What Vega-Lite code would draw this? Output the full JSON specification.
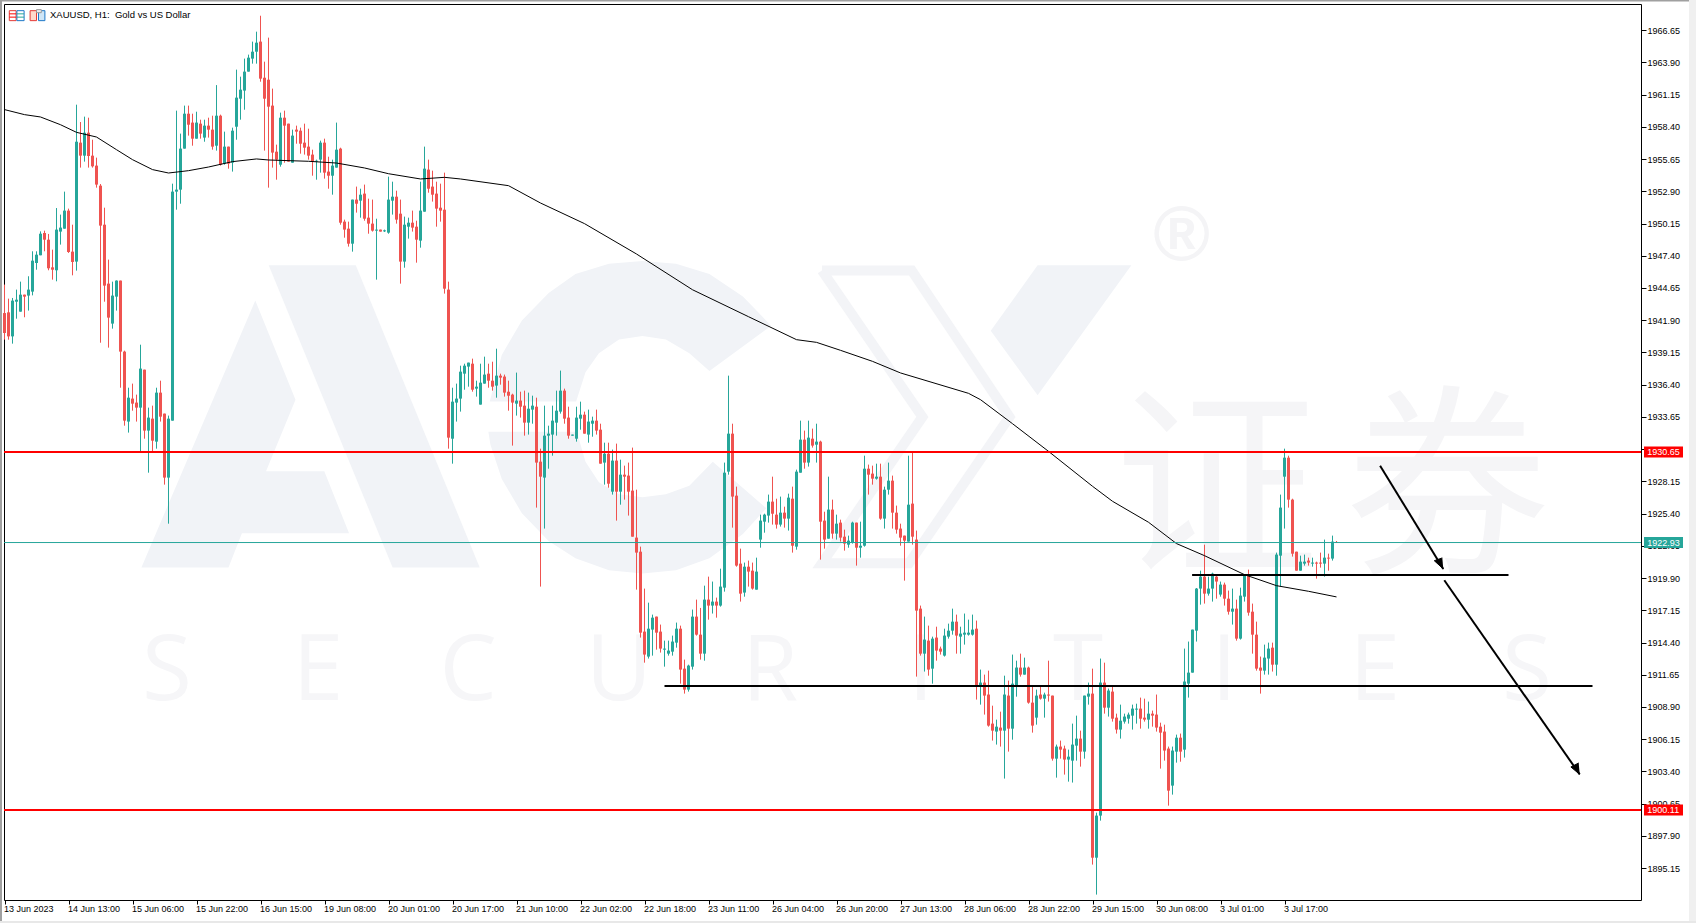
{"$schema":"https://vega.github.io/schema/vega-lite/v6.json","width":1637,"height":896,"autosize":{"type":"none"},"padding":{"left":4,"top":4,"right":55,"bottom":23},"background":"#ffffff","config":{"view":{"stroke":"#000000","strokeWidth":1}},
"datasets":{
"candles":[
{"i":0,"o":1942.51,"h":1944.94,"l":1940.24,"c":1940.81},{"i":1,"o":1942.57,"h":1943.74,"l":1940.24,"c":1940.52},{"i":2,"o":1940.52,"h":1943.8,"l":1939.9,"c":1943.57},{"i":3,"o":1943.48,"h":1944.51,"l":1942.03,"c":1943.65},{"i":4,"o":1942.63,"h":1945.19,"l":1942.63,"c":1944.08},{"i":5,"o":1944.08,"h":1944.08,"l":1942.15,"c":1943.91},{"i":6,"o":1944,"h":1945.65,"l":1942.72,"c":1944.51},{"i":7,"o":1944.34,"h":1947.78,"l":1944.02,"c":1946.98},{"i":8,"o":1946.78,"h":1947.78,"l":1946.21,"c":1947.49},{"i":9,"o":1947.44,"h":1949.48,"l":1947.44,"c":1949.28},
{"i":10,"o":1949.34,"h":1949.54,"l":1947.78,"c":1948.77},{"i":11,"o":1948.77,"h":1949.26,"l":1946.16,"c":1946.33},{"i":12,"o":1946.41,"h":1947.92,"l":1945.36,"c":1946.21},{"i":13,"o":1946.16,"h":1951.47,"l":1945.22,"c":1949.63},{"i":14,"o":1949.46,"h":1950.91,"l":1948.35,"c":1949.8},{"i":15,"o":1949.71,"h":1952.87,"l":1949.71,"c":1951.25},{"i":16,"o":1951.25,"h":1951.42,"l":1947.64,"c":1947.72},{"i":17,"o":1947.75,"h":1950.05,"l":1945.73,"c":1946.87},{"i":18,"o":1946.9,"h":1960.29,"l":1946.13,"c":1957.13},{"i":19,"o":1957.05,"h":1958.81,"l":1954.92,"c":1955.94},
{"i":20,"o":1955.94,"h":1959.27,"l":1955.43,"c":1957.9},{"i":21,"o":1957.9,"h":1959.18,"l":1954.92,"c":1955.91},{"i":22,"o":1955.94,"h":1957.3,"l":1954.92,"c":1955.03},{"i":23,"o":1955.09,"h":1955.77,"l":1953.21,"c":1953.47},{"i":24,"o":1953.38,"h":1953.52,"l":1939.98,"c":1949.97},{"i":25,"o":1950.05,"h":1951.5,"l":1943.48,"c":1944.85},{"i":26,"o":1945.02,"h":1947.07,"l":1939.56,"c":1942.12},{"i":27,"o":1941.61,"h":1945.19,"l":1941.18,"c":1944},{"i":28,"o":1943.91,"h":1945.3,"l":1942.72,"c":1945.28},{"i":29,"o":1945.28,"h":1945.28,"l":1936.14,"c":1939.22},
{"i":30,"o":1939.22,"h":1939.3,"l":1932.9,"c":1933.33},{"i":31,"o":1933.25,"h":1936.14,"l":1932.31,"c":1935.29},{"i":32,"o":1935.21,"h":1936.49,"l":1934.18,"c":1934.78},{"i":33,"o":1934.87,"h":1935.55,"l":1933.25,"c":1934.44},{"i":34,"o":1934.44,"h":1939.81,"l":1930.69,"c":1937.77},{"i":35,"o":1937.68,"h":1937.68,"l":1931.79,"c":1932.48},{"i":36,"o":1932.48,"h":1934.44,"l":1928.89,"c":1933.59},{"i":37,"o":1933.5,"h":1934.61,"l":1930.69,"c":1931.62},{"i":38,"o":1931.54,"h":1936.14,"l":1930.94,"c":1935.72},{"i":39,"o":1935.72,"h":1936.74,"l":1933.25,"c":1933.67},
{"i":40,"o":1933.93,"h":1933.93,"l":1927.87,"c":1928.47},{"i":41,"o":1928.47,"h":1933.76,"l":1924.54,"c":1933.5},{"i":42,"o":1933.33,"h":1953.55,"l":1933.33,"c":1952.87},{"i":43,"o":1952.87,"h":1959.78,"l":1951.33,"c":1953.04},{"i":44,"o":1953.04,"h":1957.82,"l":1951.84,"c":1956.54},{"i":45,"o":1956.54,"h":1960.21,"l":1956.54,"c":1959.52},{"i":46,"o":1959.52,"h":1960.21,"l":1957.65,"c":1958.58},{"i":47,"o":1958.76,"h":1959.52,"l":1956.79,"c":1957.39},{"i":48,"o":1957.39,"h":1959.69,"l":1957.39,"c":1958.76},{"i":49,"o":1958.67,"h":1959.01,"l":1957.39,"c":1957.82},
{"i":50,"o":1957.48,"h":1959.01,"l":1957.13,"c":1958.5},{"i":51,"o":1958.5,"h":1959.18,"l":1957.48,"c":1958.16},{"i":52,"o":1958.16,"h":1959.35,"l":1956.45,"c":1956.71},{"i":53,"o":1956.79,"h":1961.96,"l":1956.37,"c":1959.35},{"i":54,"o":1959.35,"h":1959.44,"l":1955.09,"c":1955.17},{"i":55,"o":1955.26,"h":1957.99,"l":1955.17,"c":1956.71},{"i":56,"o":1956.71,"h":1956.71,"l":1954.83,"c":1955.26},{"i":57,"o":1955.34,"h":1958.33,"l":1954.58,"c":1958.07},{"i":58,"o":1958.41,"h":1963.28,"l":1957.3,"c":1960.89},{"i":59,"o":1960.8,"h":1962.68,"l":1959.01,"c":1961.57},
{"i":60,"o":1961.49,"h":1964.22,"l":1959.86,"c":1963.11},{"i":61,"o":1963.11,"h":1964.56,"l":1963.11,"c":1964.3},{"i":62,"o":1964.22,"h":1965.67,"l":1963.79,"c":1964.81},{"i":63,"o":1964.81,"h":1966.52,"l":1963.79,"c":1965.58},{"i":64,"o":1965.67,"h":1967.88,"l":1962.25,"c":1962.51},{"i":65,"o":1962.59,"h":1963.96,"l":1956.37,"c":1960.8},{"i":66,"o":1962.42,"h":1966.01,"l":1953.21,"c":1960.12},{"i":67,"o":1960.21,"h":1961.66,"l":1954.92,"c":1956.2},{"i":68,"o":1956.28,"h":1956.88,"l":1953.89,"c":1955.6},{"i":69,"o":1955.17,"h":1959.61,"l":1955,"c":1959.18},
{"i":70,"o":1959.18,"h":1959.78,"l":1955.34,"c":1958.5},{"i":71,"o":1958.67,"h":1958.67,"l":1955.43,"c":1955.43},{"i":72,"o":1955.34,"h":1958.16,"l":1955.34,"c":1957.65},{"i":73,"o":1958.16,"h":1958.5,"l":1956.96,"c":1957.99},{"i":74,"o":1958.07,"h":1958.33,"l":1956.11,"c":1956.96},{"i":75,"o":1957.05,"h":1958.67,"l":1956.03,"c":1956.62},{"i":76,"o":1956.71,"h":1958.24,"l":1955.6,"c":1955.94},{"i":77,"o":1956.03,"h":1956.45,"l":1954.23,"c":1955.43},{"i":78,"o":1955.43,"h":1955.6,"l":1953.89,"c":1955.51},{"i":79,"o":1955.6,"h":1957.22,"l":1954.49,"c":1957.05},
{"i":80,"o":1957.05,"h":1957.39,"l":1953.98,"c":1954.49},{"i":81,"o":1954.58,"h":1955.85,"l":1953.12,"c":1954.23},{"i":82,"o":1954.23,"h":1955.6,"l":1952.61,"c":1955.09},{"i":83,"o":1954.92,"h":1958.76,"l":1954.92,"c":1956.45},{"i":84,"o":1956.54,"h":1956.62,"l":1950.05,"c":1950.22},{"i":85,"o":1950.31,"h":1950.48,"l":1948.94,"c":1949.63},{"i":86,"o":1949.71,"h":1950.31,"l":1948.18,"c":1948.43},{"i":87,"o":1948.43,"h":1952.19,"l":1947.75,"c":1952.19},{"i":88,"o":1952.19,"h":1953.3,"l":1951.08,"c":1951.84},{"i":89,"o":1952.1,"h":1953.12,"l":1950.65,"c":1952.61},
{"i":90,"o":1952.7,"h":1953.47,"l":1950.39,"c":1950.56},{"i":91,"o":1950.65,"h":1952.27,"l":1949.28,"c":1950.14},{"i":92,"o":1950.14,"h":1952.19,"l":1949.46,"c":1949.54},{"i":93,"o":1949.54,"h":1950.56,"l":1945.36,"c":1949.63},{"i":94,"o":1949.63,"h":1949.63,"l":1949.46,"c":1949.46},{"i":95,"o":1949.48,"h":1949.63,"l":1949.43,"c":1949.57},{"i":96,"o":1949.37,"h":1954.15,"l":1949.28,"c":1952.19},{"i":97,"o":1952.1,"h":1953.72,"l":1950.91,"c":1952.44},{"i":98,"o":1952.44,"h":1952.95,"l":1950.14,"c":1950.48},{"i":99,"o":1950.99,"h":1952.19,"l":1945.02,"c":1946.9},
{"i":100,"o":1946.9,"h":1950.74,"l":1946.38,"c":1950.05},{"i":101,"o":1949.88,"h":1950.65,"l":1948.86,"c":1950.22},{"i":102,"o":1950.22,"h":1951.25,"l":1949.46,"c":1949.8},{"i":103,"o":1949.88,"h":1950.39,"l":1946.81,"c":1948.77},{"i":104,"o":1948.69,"h":1953.72,"l":1948.09,"c":1951.25},{"i":105,"o":1951.16,"h":1956.71,"l":1951.16,"c":1954.83},{"i":106,"o":1954.75,"h":1955.6,"l":1952.78,"c":1953.12},{"i":107,"o":1953.3,"h":1954.66,"l":1952.02,"c":1952.61},{"i":108,"o":1952.7,"h":1953.72,"l":1949.88,"c":1951.42},{"i":109,"o":1951.5,"h":1953.55,"l":1950.31,"c":1951.25},
{"i":110,"o":1951.33,"h":1954.49,"l":1944.17,"c":1944.59},{"i":111,"o":1944.51,"h":1945.19,"l":1930.94,"c":1931.88},{"i":112,"o":1931.79,"h":1936.14,"l":1929.66,"c":1934.95},{"i":113,"o":1934.87,"h":1936.49,"l":1933.25,"c":1935.21},{"i":114,"o":1935.21,"h":1938.02,"l":1934.1,"c":1937.51},{"i":115,"o":1937.34,"h":1938.19,"l":1935.97,"c":1938.02},{"i":116,"o":1937.94,"h":1938.28,"l":1936.23,"c":1938.28},{"i":117,"o":1938.19,"h":1938.62,"l":1935.8,"c":1935.97},{"i":118,"o":1936.06,"h":1936.74,"l":1935.38,"c":1936.23},{"i":119,"o":1934.7,"h":1938.19,"l":1934.7,"c":1936.57},
{"i":120,"o":1936.49,"h":1938.79,"l":1936.49,"c":1937.26},{"i":121,"o":1937.34,"h":1938.19,"l":1936.14,"c":1936.74},{"i":122,"o":1936.74,"h":1938.36,"l":1935.89,"c":1936.23},{"i":123,"o":1936.32,"h":1939.47,"l":1935.29,"c":1937.17},{"i":124,"o":1937.17,"h":1937.34,"l":1936.4,"c":1937},{"i":125,"o":1937.09,"h":1937.26,"l":1935.38,"c":1935.72},{"i":126,"o":1935.8,"h":1936.74,"l":1934.18,"c":1935.46},{"i":127,"o":1935.55,"h":1935.63,"l":1931.2,"c":1934.87},{"i":128,"o":1934.78,"h":1937.43,"l":1933.76,"c":1935.04},{"i":129,"o":1935.04,"h":1935.8,"l":1933.59,"c":1934.52},
{"i":130,"o":1934.61,"h":1935.89,"l":1932.05,"c":1933.16},{"i":131,"o":1933.16,"h":1935.72,"l":1932.14,"c":1934.35},{"i":132,"o":1934.27,"h":1935.46,"l":1933.07,"c":1934.61},{"i":133,"o":1934.52,"h":1935.29,"l":1925.91,"c":1929.75},{"i":134,"o":1929.83,"h":1930.94,"l":1919.17,"c":1928.55},{"i":135,"o":1928.47,"h":1934.61,"l":1924.12,"c":1932.05},{"i":136,"o":1932.05,"h":1932.9,"l":1929.23,"c":1932.22},{"i":137,"o":1932.14,"h":1934.61,"l":1930.34,"c":1933.33},{"i":138,"o":1933.16,"h":1935.89,"l":1932.05,"c":1934.18},{"i":139,"o":1934.1,"h":1937.6,"l":1933.93,"c":1935.89},
{"i":140,"o":1935.89,"h":1936.06,"l":1933.07,"c":1933.5},{"i":141,"o":1933.59,"h":1934.52,"l":1931.79,"c":1932.05},{"i":142,"o":1932.05,"h":1932.14,"l":1932.05,"c":1932.14},{"i":143,"o":1931.79,"h":1934.52,"l":1931.54,"c":1933.59},{"i":144,"o":1933.5,"h":1934.95,"l":1932.56,"c":1933.84},{"i":145,"o":1933.84,"h":1934.1,"l":1932.22,"c":1932.22},{"i":146,"o":1932.14,"h":1934.27,"l":1931.45,"c":1933.25},{"i":147,"o":1933.07,"h":1933.67,"l":1931.96,"c":1933.33},{"i":148,"o":1933.33,"h":1934.27,"l":1932.14,"c":1932.48},{"i":149,"o":1932.56,"h":1933.07,"l":1929.66,"c":1929.66},
{"i":150,"o":1929.75,"h":1931.45,"l":1927.87,"c":1930.51},{"i":151,"o":1930.51,"h":1931.45,"l":1927.61,"c":1927.95},{"i":152,"o":1927.27,"h":1930.86,"l":1927.02,"c":1929.92},{"i":153,"o":1929.92,"h":1931.37,"l":1924.8,"c":1927.27},{"i":154,"o":1927.27,"h":1930,"l":1926.16,"c":1928.72},{"i":155,"o":1928.72,"h":1929.49,"l":1926.59,"c":1928.55},{"i":156,"o":1928.64,"h":1929.75,"l":1925.23,"c":1927.27},{"i":157,"o":1927.36,"h":1931.03,"l":1923.43,"c":1923.43},{"i":158,"o":1923.35,"h":1927.44,"l":1918.91,"c":1922.07},{"i":159,"o":1922.15,"h":1922.58,"l":1914.82,"c":1915.24},
{"i":160,"o":1915.33,"h":1919,"l":1912.68,"c":1913.37},{"i":161,"o":1913.2,"h":1917.8,"l":1913.03,"c":1915.58},{"i":162,"o":1915.5,"h":1916.78,"l":1913.28,"c":1916.52},{"i":163,"o":1916.61,"h":1916.61,"l":1913.79,"c":1915.24},{"i":164,"o":1915.33,"h":1915.93,"l":1913.54,"c":1913.88},{"i":165,"o":1913.79,"h":1914.56,"l":1912.34,"c":1913.88},{"i":166,"o":1913.45,"h":1914.56,"l":1913.28,"c":1913.71},{"i":167,"o":1913.62,"h":1914.99,"l":1913.28,"c":1914.48},{"i":168,"o":1914.39,"h":1916.1,"l":1913.96,"c":1915.58},{"i":169,"o":1915.58,"h":1915.84,"l":1910.89,"c":1912.09},
{"i":170,"o":1912.17,"h":1912.94,"l":1910.04,"c":1910.38},{"i":171,"o":1910.38,"h":1912.51,"l":1910.21,"c":1912.43},{"i":172,"o":1912.34,"h":1917.21,"l":1912.09,"c":1916.61},{"i":173,"o":1916.61,"h":1918.06,"l":1914.99,"c":1915.07},{"i":174,"o":1915.07,"h":1917.35,"l":1912.94,"c":1913.45},{"i":175,"o":1913.45,"h":1919.25,"l":1912.85,"c":1918.06},{"i":176,"o":1918.06,"h":1920.02,"l":1916.35,"c":1917.55},{"i":177,"o":1917.55,"h":1919.6,"l":1916.87,"c":1917.89},{"i":178,"o":1917.89,"h":1918.23,"l":1916.52,"c":1917.55},{"i":179,"o":1917.55,"h":1920.7,"l":1917.46,"c":1919.17},
{"i":180,"o":1919.08,"h":1929.75,"l":1918.74,"c":1928.89},{"i":181,"o":1928.98,"h":1937.17,"l":1928.72,"c":1932.22},{"i":182,"o":1932.22,"h":1933.07,"l":1924.2,"c":1926.85},{"i":183,"o":1926.93,"h":1927.7,"l":1920.87,"c":1920.96},{"i":184,"o":1921.13,"h":1922.41,"l":1917.89,"c":1918.57},{"i":185,"o":1918.66,"h":1921.22,"l":1918.31,"c":1920.87},{"i":186,"o":1920.87,"h":1921.39,"l":1919.17,"c":1920.45},{"i":187,"o":1920.53,"h":1921.22,"l":1918.91,"c":1919},{"i":188,"o":1918.91,"h":1921.64,"l":1918.91,"c":1920.45},{"i":189,"o":1923.18,"h":1925.31,"l":1922.49,"c":1924.8},
{"i":190,"o":1924.71,"h":1925.39,"l":1923.77,"c":1925.31},{"i":191,"o":1925.23,"h":1927.02,"l":1924.63,"c":1926.42},{"i":192,"o":1926.42,"h":1928.55,"l":1924.46,"c":1925.39},{"i":193,"o":1925.31,"h":1926.67,"l":1924.12,"c":1924.46},{"i":194,"o":1924.46,"h":1926.85,"l":1924.29,"c":1925.48},{"i":195,"o":1925.48,"h":1925.99,"l":1924.2,"c":1924.97},{"i":196,"o":1924.97,"h":1927.1,"l":1923.95,"c":1926.76},{"i":197,"o":1926.67,"h":1927.7,"l":1922.07,"c":1922.66},{"i":198,"o":1922.58,"h":1929.15,"l":1922.32,"c":1928.98},{"i":199,"o":1928.89,"h":1933.33,"l":1928.89,"c":1931.71},
{"i":200,"o":1931.71,"h":1932.48,"l":1929.23,"c":1929.75},{"i":201,"o":1929.75,"h":1933.33,"l":1929.41,"c":1931.88},{"i":202,"o":1931.79,"h":1932.65,"l":1931.03,"c":1931.2},{"i":203,"o":1931.28,"h":1933.07,"l":1929.75,"c":1931.54},{"i":204,"o":1931.54,"h":1931.62,"l":1921.47,"c":1924.71},{"i":205,"o":1924.8,"h":1925.56,"l":1922.41,"c":1923.18},{"i":206,"o":1923.26,"h":1928.55,"l":1923.26,"c":1925.74},{"i":207,"o":1925.74,"h":1926.59,"l":1923.26,"c":1923.69},{"i":208,"o":1923.69,"h":1925.31,"l":1923.18,"c":1924.54},{"i":209,"o":1924.63,"h":1924.88,"l":1923.01,"c":1923.35},
{"i":210,"o":1923.43,"h":1924.03,"l":1922.24,"c":1922.84},{"i":211,"o":1922.75,"h":1923.52,"l":1922.49,"c":1923.09},{"i":212,"o":1922.92,"h":1924.71,"l":1922.84,"c":1924.63},{"i":213,"o":1924.63,"h":1924.63,"l":1920.96,"c":1922.49},{"i":214,"o":1922.49,"h":1924.71,"l":1921.64,"c":1922.66},{"i":215,"o":1922.66,"h":1930.34,"l":1922.58,"c":1929.23},{"i":216,"o":1929.23,"h":1929.58,"l":1927.02,"c":1928.72},{"i":217,"o":1928.81,"h":1929.49,"l":1927.87,"c":1928.38},{"i":218,"o":1928.38,"h":1929.66,"l":1928.3,"c":1928.55},{"i":219,"o":1928.55,"h":1929.66,"l":1924.88,"c":1924.97},
{"i":220,"o":1924.97,"h":1927.7,"l":1924.12,"c":1927.44},{"i":221,"o":1927.44,"h":1929.75,"l":1927.02,"c":1928.21},{"i":222,"o":1928.21,"h":1928.64,"l":1924.12,"c":1925.48},{"i":223,"o":1925.48,"h":1926.08,"l":1923.69,"c":1924.03},{"i":224,"o":1924.12,"h":1924.54,"l":1922.66,"c":1923.35},{"i":225,"o":1923.52,"h":1923.52,"l":1919.68,"c":1923.09},{"i":226,"o":1923.01,"h":1930.34,"l":1923.01,"c":1926.16},{"i":227,"o":1926.25,"h":1930.69,"l":1922.75,"c":1923.43},{"i":228,"o":1923.18,"h":1923.95,"l":1911.49,"c":1917.12},{"i":229,"o":1917.29,"h":1917.55,"l":1913.28,"c":1913.45},
{"i":230,"o":1913.45,"h":1916.61,"l":1911.92,"c":1914.65},{"i":231,"o":1914.56,"h":1915.84,"l":1911.57,"c":1912.09},{"i":232,"o":1912.17,"h":1914.9,"l":1910.89,"c":1914.73},{"i":233,"o":1914.82,"h":1915.75,"l":1912.85,"c":1913.71},{"i":234,"o":1913.88,"h":1914.05,"l":1913.37,"c":1913.62},{"i":235,"o":1913.28,"h":1915.58,"l":1913.2,"c":1914.99},{"i":236,"o":1914.9,"h":1916.01,"l":1914.73,"c":1915.41},{"i":237,"o":1915.41,"h":1917.29,"l":1915.07,"c":1916.18},{"i":238,"o":1916.18,"h":1916.78,"l":1913.45,"c":1914.99},{"i":239,"o":1914.9,"h":1915.75,"l":1913.45,"c":1915.16},
{"i":240,"o":1915.07,"h":1916.87,"l":1914.22,"c":1915.24},{"i":241,"o":1915.07,"h":1916.35,"l":1914.99,"c":1915.24},{"i":242,"o":1915.07,"h":1916.78,"l":1914.99,"c":1915.5},{"i":243,"o":1915.58,"h":1916.27,"l":1909.53,"c":1910.72},{"i":244,"o":1910.72,"h":1912.09,"l":1909.1,"c":1910.98},{"i":245,"o":1910.98,"h":1911.66,"l":1908.25,"c":1909.87},{"i":246,"o":1909.96,"h":1912,"l":1907.22,"c":1907.31},{"i":247,"o":1907.48,"h":1909.01,"l":1906.03,"c":1906.88},{"i":248,"o":1906.8,"h":1907.82,"l":1905.69,"c":1907.22},{"i":249,"o":1907.14,"h":1908.5,"l":1905.52,"c":1906.88},
{"i":250,"o":1906.88,"h":1911.57,"l":1902.79,"c":1909.96},{"i":251,"o":1909.87,"h":1911.15,"l":1905.09,"c":1907.05},{"i":252,"o":1907.05,"h":1913.37,"l":1906.11,"c":1910.89},{"i":253,"o":1910.72,"h":1912.85,"l":1909.78,"c":1912.26},{"i":254,"o":1912.26,"h":1913.45,"l":1911.49,"c":1911.66},{"i":255,"o":1911.66,"h":1913.11,"l":1911.66,"c":1912.26},{"i":256,"o":1912.26,"h":1912.34,"l":1909.18,"c":1909.27},{"i":257,"o":1909.27,"h":1910.72,"l":1906.71,"c":1907.31},{"i":258,"o":1907.99,"h":1910.38,"l":1907.39,"c":1909.87},{"i":259,"o":1909.96,"h":1910.72,"l":1909.53,"c":1909.61},
{"i":260,"o":1909.61,"h":1910.12,"l":1907.99,"c":1909.96},{"i":261,"o":1909.96,"h":1912.85,"l":1909.36,"c":1909.87},{"i":262,"o":1909.87,"h":1909.87,"l":1904.32,"c":1904.49},{"i":263,"o":1904.49,"h":1905.69,"l":1902.87,"c":1905.52},{"i":264,"o":1905.52,"h":1906.03,"l":1904.49,"c":1905.26},{"i":265,"o":1905.35,"h":1905.6,"l":1903.13,"c":1904.41},{"i":266,"o":1904.41,"h":1905.26,"l":1902.53,"c":1904.66},{"i":267,"o":1904.32,"h":1907.48,"l":1902.45,"c":1905.69},{"i":268,"o":1905.6,"h":1908.16,"l":1904.32,"c":1906.2},{"i":269,"o":1906.2,"h":1906.88,"l":1903.81,"c":1905.09},
{"i":270,"o":1905.09,"h":1909.87,"l":1904.49,"c":1909.87},{"i":271,"o":1909.78,"h":1910.98,"l":1909.1,"c":1910.04},{"i":272,"o":1910.04,"h":1912.17,"l":1895.45,"c":1896.04},{"i":273,"o":1896.04,"h":1899.88,"l":1892.89,"c":1899.63},{"i":274,"o":1899.63,"h":1913.03,"l":1899.2,"c":1910.98},{"i":275,"o":1910.98,"h":1912.68,"l":1908.33,"c":1908.84},{"i":276,"o":1908.84,"h":1910.47,"l":1908.08,"c":1910.3},{"i":277,"o":1910.21,"h":1910.72,"l":1907.65,"c":1907.9},{"i":278,"o":1907.99,"h":1908.33,"l":1906.63,"c":1906.97},{"i":279,"o":1906.97,"h":1909.1,"l":1906.2,"c":1907.73},
{"i":280,"o":1907.65,"h":1908.33,"l":1907.48,"c":1908.08},{"i":281,"o":1907.9,"h":1908.42,"l":1907.48,"c":1908.25},{"i":282,"o":1908.16,"h":1909.1,"l":1906.97,"c":1908.76},{"i":283,"o":1908.67,"h":1909.18,"l":1907.48,"c":1908.76},{"i":284,"o":1908.76,"h":1909.7,"l":1907.05,"c":1907.9},{"i":285,"o":1907.99,"h":1909.61,"l":1907.65,"c":1907.82},{"i":286,"o":1907.82,"h":1909.36,"l":1907.05,"c":1908.33},{"i":287,"o":1908.33,"h":1908.59,"l":1907.22,"c":1908.16},{"i":288,"o":1908.25,"h":1909.96,"l":1906.8,"c":1907.14},{"i":289,"o":1907.22,"h":1907.56,"l":1903.64,"c":1906.71},
{"i":290,"o":1906.8,"h":1907.39,"l":1904.32,"c":1905.18},{"i":291,"o":1905.35,"h":1905.52,"l":1900.48,"c":1901.76},{"i":292,"o":1902.19,"h":1905.52,"l":1901.42,"c":1905.18},{"i":293,"o":1905.09,"h":1906.54,"l":1904.15,"c":1906.28},{"i":294,"o":1906.28,"h":1906.63,"l":1904.23,"c":1905.09},{"i":295,"o":1905.26,"h":1913.88,"l":1904.58,"c":1911.07},{"i":296,"o":1910.89,"h":1914.48,"l":1909.7,"c":1911.83},{"i":297,"o":1911.83,"h":1915.5,"l":1911.83,"c":1915.5},{"i":298,"o":1915.41,"h":1919.05,"l":1914.48,"c":1919},{"i":299,"o":1919,"h":1920.53,"l":1917.63,"c":1920.02},
{"i":300,"o":1920.02,"h":1922.75,"l":1917.72,"c":1918.57},{"i":301,"o":1918.57,"h":1920.02,"l":1918.4,"c":1919},{"i":302,"o":1919,"h":1920.36,"l":1917.89,"c":1920.28},{"i":303,"o":1920.02,"h":1920.19,"l":1918.14,"c":1919.6},{"i":304,"o":1918.49,"h":1919.6,"l":1918.31,"c":1919.34},{"i":305,"o":1919.34,"h":1919.51,"l":1917.55,"c":1918.14},{"i":306,"o":1918.14,"h":1918.83,"l":1916.78,"c":1917.03},{"i":307,"o":1917.03,"h":1919,"l":1915.93,"c":1917.29},{"i":308,"o":1917.29,"h":1918.06,"l":1914.56,"c":1914.73},{"i":309,"o":1914.73,"h":1919.08,"l":1914.65,"c":1918.4},
{"i":310,"o":1918.31,"h":1920.19,"l":1917.89,"c":1920.19},{"i":311,"o":1920.11,"h":1920.62,"l":1916.69,"c":1916.95},{"i":312,"o":1917.03,"h":1917.72,"l":1913.45,"c":1915.07},{"i":313,"o":1915.07,"h":1916.18,"l":1912,"c":1912.17},{"i":314,"o":1912.26,"h":1913.2,"l":1910.04,"c":1912},{"i":315,"o":1912,"h":1914.22,"l":1911.66,"c":1913.11},{"i":316,"o":1913.03,"h":1914.39,"l":1911.66,"c":1913.88},{"i":317,"o":1913.96,"h":1914.39,"l":1911.92,"c":1912.51},{"i":318,"o":1912.51,"h":1922.07,"l":1911.57,"c":1921.9},{"i":319,"o":1921.81,"h":1927.02,"l":1919.17,"c":1925.91},
{"i":320,"o":1928.55,"h":1930.94,"l":1924.12,"c":1930.17},{"i":321,"o":1930.17,"h":1930.34,"l":1925.91,"c":1926.59},{"i":322,"o":1926.59,"h":1926.67,"l":1921.73,"c":1921.98},{"i":323,"o":1922.15,"h":1922.15,"l":1920.53,"c":1920.53},{"i":324,"o":1920.53,"h":1921.81,"l":1920.53,"c":1921.3},{"i":325,"o":1921.13,"h":1921.9,"l":1920.96,"c":1921.3},{"i":326,"o":1921.39,"h":1921.64,"l":1920.96,"c":1921.22},{"i":327,"o":1921.13,"h":1921.64,"l":1920.87,"c":1921.22},{"i":328,"o":1921.22,"h":1921.3,"l":1919.85,"c":1921.13},{"i":329,"o":1921.22,"h":1922.07,"l":1920.79,"c":1921.13},
{"i":330,"o":1921.13,"h":1923.18,"l":1920.02,"c":1921.64},{"i":331,"o":1921.64,"h":1921.98,"l":1920.53,"c":1921.56},{"i":332,"o":1921.56,"h":1923.52,"l":1921.39,"c":1923.01},{"i":333,"o":1922.98,"h":1923.06,"l":1922.89,"c":1922.89}],
"ma":[{"i":0,"p":1959.87},{"i":5,"p":1959.44},{"i":9,"p":1959.24},{"i":14,"p":1958.58},{"i":18,"p":1957.93},{"i":23,"p":1957.53},{"i":28,"p":1956.45},{"i":32,"p":1955.6},{"i":37,"p":1954.75},{"i":41,"p":1954.46},{"i":46,"p":1954.66},{"i":51,"p":1954.97},{"i":57,"p":1955.43},{"i":63,"p":1955.66},{"i":66,"p":1955.57},{"i":76,"p":1955.46},{"i":83,"p":1955.31},{"i":90,"p":1954.89},{"i":96,"p":1954.4},{"i":104,"p":1953.95},{"i":110,"p":1954.09},{"i":114,"p":1953.95},{"i":126,"p":1953.38},{"i":134,"p":1951.9},{"i":145,"p":1950.14},{"i":158,"p":1947.55},{"i":172,"p":1944.5},{"i":186,"p":1942.2},{"i":198,"p":1940.24},{"i":203,"p":1940.01},{"i":209,"p":1939.33},{"i":217,"p":1938.39},{"i":224,"p":1937.4},{"i":241,"p":1935.66},{"i":244,"p":1935.12},{"i":252,"p":1933.07},{"i":261,"p":1930.71},{"i":272,"p":1927.73},{"i":277,"p":1926.45},{"i":286,"p":1924.66},{"i":293,"p":1922.84},{"i":300,"p":1921.81},{"i":310,"p":1920.19},{"i":318,"p":1919.25},{"i":326,"p":1918.77},{"i":333,"p":1918.29}],
"wm":[
{"g":"a1","n":0,"i":66.05,"p":1946.58},{"g":"a1","n":1,"i":87.82,"p":1946.58},{"g":"a1","n":2,"i":118.8,"p":1920.81},{"g":"a1","n":3,"i":97.03,"p":1920.81},
{"g":"a2","n":0,"i":62.7,"p":1943.58},{"g":"a2","n":1,"i":72.75,"p":1935.12},{"g":"a2","n":2,"i":65.38,"p":1929.01},{"g":"a2","n":3,"i":79.95,"p":1929.01},{"g":"a2","n":4,"i":86.14,"p":1923.72},{"g":"a2","n":5,"i":59.35,"p":1923.72},{"g":"a2","n":6,"i":56,"p":1920.81},{"g":"a2","n":7,"i":34.23,"p":1920.81},
{"g":"c1","n":0,"i":191.64,"p":1941.43},{"g":"c1","n":1,"i":184.6,"p":1943.93},{"g":"c1","n":2,"i":176.23,"p":1945.84},{"g":"c1","n":3,"i":167.86,"p":1946.72},{"g":"c1","n":4,"i":159.49,"p":1946.96},{"g":"c1","n":5,"i":151.11,"p":1946.72},{"g":"c1","n":6,"i":142.74,"p":1945.84},{"g":"c1","n":7,"i":136.04,"p":1944.23},{"g":"c1","n":8,"i":129.35,"p":1941.88},{"g":"c1","n":9,"i":124.32,"p":1938.94},{"g":"c1","n":10,"i":121.31,"p":1934.97},{"g":"c1","n":11,"i":142.91,"p":1934.97},{"g":"c1","n":12,"i":145.25,"p":1937.47},{"g":"c1","n":13,"i":148.6,"p":1939.08},{"g":"c1","n":14,"i":153.63,"p":1940.26},{"g":"c1","n":15,"i":159.49,"p":1940.55},{"g":"c1","n":16,"i":165.35,"p":1940.26},{"g":"c1","n":17,"i":171.21,"p":1939.08},{"g":"c1","n":18,"i":176.23,"p":1937.56},
{"g":"c2","n":0,"i":120.97,"p":1932.39},{"g":"c2","n":1,"i":121.47,"p":1931.3},{"g":"c2","n":2,"i":124.32,"p":1928.36},{"g":"c2","n":3,"i":129.35,"p":1925.42},{"g":"c2","n":4,"i":136.04,"p":1923.07},{"g":"c2","n":5,"i":142.74,"p":1921.6},{"g":"c2","n":6,"i":151.11,"p":1920.57},{"g":"c2","n":7,"i":159.49,"p":1920.28},{"g":"c2","n":8,"i":167.86,"p":1920.57},{"g":"c2","n":9,"i":176.23,"p":1921.6},{"g":"c2","n":10,"i":184.6,"p":1923.66},{"g":"c2","n":11,"i":190.46,"p":1925.86},{"g":"c2","n":12,"i":177.07,"p":1929.83},{"g":"c2","n":13,"i":171.21,"p":1927.77},{"g":"c2","n":14,"i":165.35,"p":1927.04},{"g":"c2","n":15,"i":159.49,"p":1926.8},{"g":"c2","n":16,"i":153.63,"p":1927.04},{"g":"c2","n":17,"i":148.6,"p":1928.07},{"g":"c2","n":18,"i":145.25,"p":1929.83},{"g":"c2","n":19,"i":143.08,"p":1932.39},
{"g":"v","n":0,"i":258.28,"p":1946.58},{"g":"v","n":1,"i":281.72,"p":1946.58},{"g":"v","n":2,"i":258.28,"p":1935.5},{"g":"v","n":3,"i":246.56,"p":1941}]
},
"encoding":{
"x":{"field":"i","type":"quantitative","title":null,"scale":{"domain":[-0.125,409.125],"nice":false,"zero":false},"axis":{"values":[0,16,32,48,64,80,96,112,128,144,160,176,192,208,224,240,256,272,288,304,320],"labelExpr":"['13 Jun 2023','14 Jun 13:00','15 Jun 06:00','15 Jun 22:00','16 Jun 15:00','19 Jun 08:00','20 Jun 01:00','20 Jun 17:00','21 Jun 10:00','22 Jun 02:00','22 Jun 18:00','23 Jun 11:00','26 Jun 04:00','26 Jun 20:00','27 Jun 13:00','28 Jun 06:00','28 Jun 22:00','29 Jun 15:00','30 Jun 08:00','3 Jul 01:00','3 Jul 17:00'][datum.value/16]","grid":false,"domain":false,"tickSize":4,"tickColor":"#000000","labelColor":"#000000","labelFont":"Liberation Sans","labelFontSize":9,"labelAlign":"left","labelBaseline":"middle","labelPadding":4,"labelOffset":-1,"labelOverlap":false,"labelFlush":false,"labelBound":false}},
"y":{"field":"p","type":"quantitative","title":null,"scale":{"domain":[1892.43,1968.88],"nice":false,"zero":false},"axis":{"orient":"right","values":[1966.65,1963.9,1961.15,1958.4,1955.65,1952.9,1950.15,1947.4,1944.65,1941.9,1939.15,1936.4,1933.65,1930.9,1928.15,1925.4,1922.65,1919.9,1917.15,1914.4,1911.65,1908.9,1906.15,1903.4,1900.65,1897.9,1895.15],"format":".2f","grid":false,"domain":false,"tickSize":5,"tickColor":"#000000","labelColor":"#000000","labelFont":"Liberation Sans","labelFontSize":9,"labelAlign":"left","labelPadding":1,"labelOverlap":false,"labelBound":false,"labelFlush":false}}
},
"layer":[
{"data":{"name":"wm"},"mark":{"type":"line","fill":"#f1f3f7","stroke":"#f1f3f7","strokeWidth":0,"interpolate":"linear"},"encoding":{"detail":{"field":"g"},"order":{"field":"n","type":"quantitative"}}},
{"data":{"values":[{"n":0,"i":204.36,"p":1946.14},{"n":1,"i":226.8,"p":1946.14},{"n":2,"i":251.25,"p":1933.65},{"n":3,"i":226.13,"p":1921.16},{"n":4,"i":204.36,"p":1921.16},{"n":5,"i":229.48,"p":1933.65},{"n":6,"i":204.36,"p":1946.14}]},"mark":{"type":"line","color":"#f3f4f7","strokeWidth":10,"strokeJoin":"miter"},"encoding":{"order":{"field":"n","type":"quantitative"}}},
{"data":{"values":[{"t":"S","i":40.6,"p":1911.84},{"t":"E","i":78.4,"p":1911.84},{"t":"C","i":115.9,"p":1911.84},{"t":"U","i":153.6,"p":1911.84},{"t":"R","i":191.4,"p":1911.84},{"t":"I","i":229.1,"p":1911.84},{"t":"T","i":268.4,"p":1911.84},{"t":"I","i":304.9,"p":1911.84},{"t":"E","i":342.6,"p":1911.84},{"t":"S","i":380.6,"p":1911.84}]},"mark":{"type":"text","font":"Open Sans","fontSize":91,"color":"#f6f6f8","align":"center","baseline":"middle"},"encoding":{"text":{"field":"t"}}},
{"data":{"values":[{"t":"证","i":303,"p":1926.93},{"t":"券","i":360.7,"p":1926.93}]},"mark":{"type":"text","font":"Noto Sans CJK SC","fontSize":205,"color":"#f5f5f7","align":"center","baseline":"middle"},"encoding":{"text":{"field":"t"}}},
{"data":{"values":[{"t":"®","i":294.3,"p":1949}]},"mark":{"type":"text","font":"Liberation Sans","fontSize":77,"fontWeight":"bold","color":"#f4f4f6","align":"center","baseline":"middle"},"encoding":{"text":{"field":"t"}}},
{"data":{"name":"candles"},"mark":{"type":"rule","strokeWidth":1},"encoding":{"y":{"field":"h","type":"quantitative","title":null,"scale":{"domain":[1892.43,1968.88],"nice":false,"zero":false},"axis":{"orient":"right","values":[1966.65,1963.9,1961.15,1958.4,1955.65,1952.9,1950.15,1947.4,1944.65,1941.9,1939.15,1936.4,1933.65,1930.9,1928.15,1925.4,1922.65,1919.9,1917.15,1914.4,1911.65,1908.9,1906.15,1903.4,1900.65,1897.9,1895.15],"format":".2f","grid":false,"domain":false,"tickSize":5,"tickColor":"#000000","labelColor":"#000000","labelFont":"Liberation Sans","labelFontSize":9,"labelAlign":"left","labelPadding":1,"labelOverlap":false,"labelBound":false,"labelFlush":false}},"y2":{"field":"l"},"color":{"condition":{"test":"datum.c>=datum.o","value":"#26a69a"},"value":"#ef5350"}}},
{"data":{"name":"candles"},"mark":{"type":"rule","strokeWidth":3},"encoding":{"y":{"field":"o","type":"quantitative","title":null,"scale":{"domain":[1892.43,1968.88],"nice":false,"zero":false},"axis":{"orient":"right","values":[1966.65,1963.9,1961.15,1958.4,1955.65,1952.9,1950.15,1947.4,1944.65,1941.9,1939.15,1936.4,1933.65,1930.9,1928.15,1925.4,1922.65,1919.9,1917.15,1914.4,1911.65,1908.9,1906.15,1903.4,1900.65,1897.9,1895.15],"format":".2f","grid":false,"domain":false,"tickSize":5,"tickColor":"#000000","labelColor":"#000000","labelFont":"Liberation Sans","labelFontSize":9,"labelAlign":"left","labelPadding":1,"labelOverlap":false,"labelBound":false,"labelFlush":false}},"y2":{"field":"c"},"color":{"condition":{"test":"datum.c>=datum.o","value":"#26a69a"},"value":"#ef5350"}}},
{"data":{"name":"ma"},"mark":{"type":"line","color":"#000000","strokeWidth":1},"encoding":{}},
{"data":{"values":[{"i":-0.125,"i2":409.125,"p":1922.93}]},"mark":{"type":"rule","color":"#26a69a","strokeWidth":1},"encoding":{"x2":{"field":"i2"}}},
{"data":{"values":[{"i":-0.125,"i2":409.125,"p":1930.65},{"i":-0.125,"i2":409.125,"p":1900.11}]},"mark":{"type":"rule","color":"#ff0000","strokeWidth":2},"encoding":{"x2":{"field":"i2"}}},
{"data":{"values":[{"i":296.9,"i2":376,"p":1920.16},{"i":165,"i2":397,"p":1910.69}]},"mark":{"type":"rule","color":"#000000","strokeWidth":2},"encoding":{"x2":{"field":"i2"}}},
{"data":{"values":[{"g":"up","n":0,"i":343.9,"p":1929.49},{"g":"up","n":1,"i":359.7,"p":1920.68},{"g":"down","n":0,"i":359.95,"p":1919.71},{"g":"down","n":1,"i":393.8,"p":1903.15}]},"mark":{"type":"line","color":"#000000","strokeWidth":2},"encoding":{"detail":{"field":"g"},"order":{"field":"n","type":"quantitative"}}},
{"data":{"values":[{"g":"up","n":0,"i":359.7,"p":1920.68},{"g":"up","n":1,"i":357.45,"p":1921.38},{"g":"up","n":2,"i":359.45,"p":1921.62},{"g":"down","n":0,"i":393.8,"p":1903.15},{"g":"down","n":1,"i":391.6,"p":1903.78},{"g":"down","n":2,"i":393.55,"p":1904.12}]},"mark":{"type":"line","fill":"#000000","stroke":"#000000","strokeWidth":1},"encoding":{"detail":{"field":"g"},"order":{"field":"n","type":"quantitative"}}},
{"data":{"values":[{"i":409.875,"i2":419.625,"p":1930.65,"kind":"level"},{"i":409.875,"i2":419.625,"p":1900.11,"kind":"level"},{"i":409.875,"i2":419.625,"p":1922.93,"kind":"last"}]},"mark":{"type":"rule","strokeWidth":11},"encoding":{"x2":{"field":"i2"},"color":{"field":"kind","type":"nominal","scale":{"domain":["level","last"],"range":["#ff0000","#26a69a"]},"legend":null}}},
{"data":{"values":[{"i":410.7,"p":1930.65,"t":"1930.65"},{"i":410.7,"p":1900.11,"t":"1900.11"},{"i":410.7,"p":1922.93,"t":"1922.93"}]},"mark":{"type":"text","font":"Liberation Sans","fontSize":9,"color":"#ffffff","align":"left","baseline":"middle"},"encoding":{"text":{"field":"t"}}},
{"data":{"values":[{"i":11.375,"p":1967.95,"t":"XAUUSD, H1:\u00a0 Gold vs US Dollar"}]},"mark":{"type":"text","font":"Liberation Sans","fontSize":9.5,"color":"#000000","align":"left","baseline":"middle"},"encoding":{"text":{"field":"t"}}},
{"data":{"values":[{"i":1.2,"i2":2.9,"p":1968.31,"p2":1967.46,"kind":"red"},{"i":3.1,"i2":4.9,"p":1968.31,"p2":1967.46,"kind":"blue"},{"i":6.4,"i2":8,"p":1968.31,"p2":1967.46,"kind":"pink"},{"i":8.5,"i2":10.1,"p":1968.31,"p2":1967.46,"kind":"sky"},{"i":8,"i2":9.2,"p":1968.4,"p2":1968.14,"kind":"grey"}]},"mark":{"type":"rect","strokeWidth":1},"encoding":{"x2":{"field":"i2"},"y2":{"field":"p2"},"fill":{"field":"kind","type":"nominal","scale":{"domain":["red","blue","pink","sky","grey"],"range":["#ffffff","#ffffff","#ffd9cc","#cfe6f7","#eeeeee"]},"legend":null},"stroke":{"field":"kind","type":"nominal","scale":{"domain":["red","blue","pink","sky","grey"],"range":["#e53935","#1e78c8","#e53935","#1e78c8","#999999"]},"legend":null}}},
{"data":{"values":[{"i":1.2,"i2":2.9,"p":1968.04,"kind":"red"},{"i":1.2,"i2":2.9,"p":1967.76,"kind":"red"},{"i":3.1,"i2":4.9,"p":1968.04,"kind":"blue"},{"i":3.1,"i2":4.9,"p":1967.76,"kind":"blue"}]},"mark":{"type":"rule","strokeWidth":1},"encoding":{"x2":{"field":"i2"},"color":{"field":"kind","type":"nominal","scale":{"domain":["red","blue"],"range":["#e53935","#1e78c8"]},"legend":null}}},
{"data":{"values":[{"i":-1.125,"i2":424,"p":1969.17},{"i":-0.875,"i2":-0.875,"p":1969.25,"p2":1890.5}]},"mark":{"type":"rule","color":"#a0a0a0","strokeWidth":2},"encoding":{"x2":{"field":"i2"},"y2":{"field":"p2"}}},
{"data":{"values":[{"i":422,"i2":422,"p":1969.25,"p2":1890.5}]},"mark":{"type":"rule","color":"#f0f0f0","strokeWidth":7},"encoding":{"x2":{"field":"i2"},"y2":{"field":"p2"}}},
{"data":{"values":[{"i":-1.125,"i2":424,"p":1890.55}]},"mark":{"type":"rule","color":"#e8e8e8","strokeWidth":2},"encoding":{"x2":{"field":"i2"}}}
]}
